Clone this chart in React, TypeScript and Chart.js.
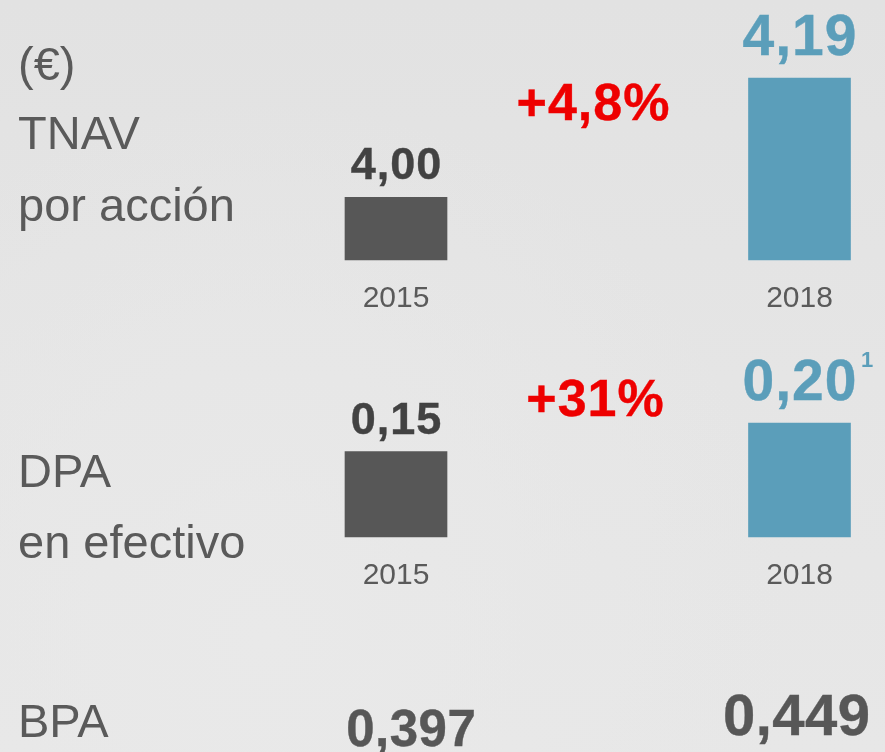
import React, { useEffect, useRef } from "react";
import { Chart, registerables } from "chart.js";

Chart.register(...registerables);

// ---- data ----
const years = ["2015", "2018"];
const tnavValues = [4.0, 4.19];
const dpaValues = [0.15, 0.2];
const bpaValues = [0.397, 0.449];
const changes = ["+4,8%", "+31%"];
const dpaNote = "1";
const titlesTnav = ["(€)", "TNAV", "por acción"];
const titlesDpa = ["DPA", "en efectivo"];
const titlesBpa = ["BPA"];
const tnavBase = 3.9;

const FONT = "'Liberation Sans', Arial, Helvetica, sans-serif";
const DARK_BAR = "#575757";
const BLUE = "#5b9eba";
const DARK_TEXT = "#424242";
const GREY_TEXT = "#5a5a5a";
const RED = "#ee0000";

const fmt = (v: number, d: number) => v.toFixed(d).replace(".", ",");

const W = 885;

type RowCfg = {
  values: number[];
  min: number;
  max: number;
  padTop: number;
  padBottom: number;
  height: number;
  extra: (chart: any) => void;
};

function boldText(ctx: CanvasRenderingContext2D, text: string, x: number, y: number, color: string, spacing = 1) {
  (ctx as any).letterSpacing = `${spacing}px`;
  ctx.fillStyle = color;
  ctx.strokeStyle = color;
  ctx.lineWidth = 0.4;
  ctx.fillText(text, x + spacing / 2, y);
  ctx.strokeText(text, x + spacing / 2, y);
  (ctx as any).letterSpacing = "0px";
}

function drawValueLabels(chart: any, values: number[]) {
  const ctx = chart.ctx;
  const meta = chart.getDatasetMeta(0);
  meta.data.forEach((bar: any, i: number) => {
    const isNew = i === 1;
    ctx.save();
    ctx.textAlign = "center";
    ctx.textBaseline = "alphabetic";
    ctx.font = `bold ${isNew ? 57 : 45}px ${FONT}`;
    const label = fmt(values[i], 2);
    const y = bar.y - (isNew ? 23 : 18);
    boldText(ctx, label, bar.x, y, isNew ? BLUE : DARK_TEXT, 1);
    // year label
    ctx.font = `30px ${FONT}`;
    ctx.fillStyle = GREY_TEXT;
    ctx.fillText(years[i], bar.x, bar.base + 47);
    ctx.restore();
  });
}

function drawTitles(ctx: CanvasRenderingContext2D, lines: string[], baselines: number[]) {
  ctx.save();
  ctx.textAlign = "left";
  ctx.textBaseline = "alphabetic";
  ctx.fillStyle = GREY_TEXT;
  ctx.font = `47px ${FONT}`;
  lines.forEach((l, i) => ctx.fillText(l, 18, baselines[i]));
  ctx.restore();
}

function drawChange(ctx: CanvasRenderingContext2D, text: string, x: number, y: number) {
  ctx.save();
  ctx.textAlign = "center";
  ctx.font = `bold 52px ${FONT}`;
  boldText(ctx, text, x, y, RED, 1);
  ctx.restore();
}

function RowChart({ cfg, top }: { cfg: RowCfg; top: number }) {
  const ref = useRef<HTMLCanvasElement>(null);
  useEffect(() => {
    if (!ref.current) return;
    const chart = new Chart(ref.current, {
      type: "bar",
      data: {
        labels: years,
        datasets: [
          {
            data: cfg.values,
            backgroundColor: [DARK_BAR, BLUE],
            borderWidth: 0,
            barThickness: 102,
            base: cfg.min,
            clip: false as any,
          } as any,
        ],
      },
      options: {
        responsive: false,
        animation: false,
        events: [],
        layout: {
          padding: { top: cfg.padTop, bottom: cfg.padBottom, left: 396, right: 85.5 },
        },
        plugins: { legend: { display: false }, tooltip: { enabled: false } },
        scales: {
          x: { type: "category", offset: false, display: false },
          y: { min: cfg.min, max: cfg.max, display: false },
        },
      },
      plugins: [
        {
          id: "labels",
          afterDraw(c: any) {
            drawValueLabels(c, cfg.values);
            cfg.extra(c);
          },
        },
      ],
    });
    return () => chart.destroy();
  }, []);
  return (
    <canvas
      ref={ref}
      width={W}
      height={cfg.height}
      style={{ position: "absolute", left: 0, top, width: W, height: cfg.height }}
    />
  );
}

const row1: RowCfg = {
  values: tnavValues,
  min: tnavBase,
  max: 4.19,
  padTop: 78,
  padBottom: 320 - 260,
  height: 320,
  extra: (c: any) => {
    const ctx = c.ctx;
    drawTitles(ctx, titlesTnav, [80, 149, 221]);
    drawChange(ctx, changes[0], 593, 120);
  },
};

const row2: RowCfg = {
  values: dpaValues,
  min: 0,
  max: 0.2,
  padTop: 423 - 320,
  padBottom: 432 - (537 - 320),
  height: 432,
  extra: (c: any) => {
    const ctx = c.ctx;
    drawTitles(ctx, titlesDpa, [487 - 320, 558 - 320]);
    drawChange(ctx, changes[1], 595, 416 - 320);
    // footnote marker after 0,20
    const meta = c.getDatasetMeta(0);
    const bar = meta.data[1];
    ctx.save();
    ctx.font = `bold 57px ${FONT}`;
    const w = ctx.measureText(fmt(dpaValues[1], 2)).width + 4;
    ctx.font = `bold 22px ${FONT}`;
    ctx.fillStyle = BLUE;
    ctx.textAlign = "left";
    ctx.fillText(dpaNote, bar.x + w / 2 + 4, bar.y - 23 - 33);
    ctx.restore();
    // BPA row (text only)
    drawTitles(ctx, titlesBpa, [737 - 320]);
    const xs = c.scales.x;
    ctx.save();
    ctx.textAlign = "center";
    ctx.font = `bold 51px ${FONT}`;
    boldText(ctx, fmt(bpaValues[0], 3), xs.getPixelForValue(0) + 15, 746 - 320, "#575757", 0.5);
    ctx.font = `bold 58px ${FONT}`;
    boldText(ctx, fmt(bpaValues[1], 3), xs.getPixelForValue(1) - 3, 735 - 320, "#575757", 0.5);
    ctx.restore();
  },
};

export default function App() {
  return (
    <div
      style={{
        position: "fixed",
        left: 0,
        top: 0,
        width: W,
        height: 752,
        overflow: "hidden",
        background:
          "radial-gradient(ellipse at 30% 85%, #e9e9e9 0%, rgba(233,233,233,0) 60%), linear-gradient(180deg, #e2e2e2 0%, #e5e5e5 50%, #e7e7e7 100%)",
      }}
    >
      <RowChart cfg={row1} top={0} />
      <RowChart cfg={row2} top={320} />
    </div>
  );
}
